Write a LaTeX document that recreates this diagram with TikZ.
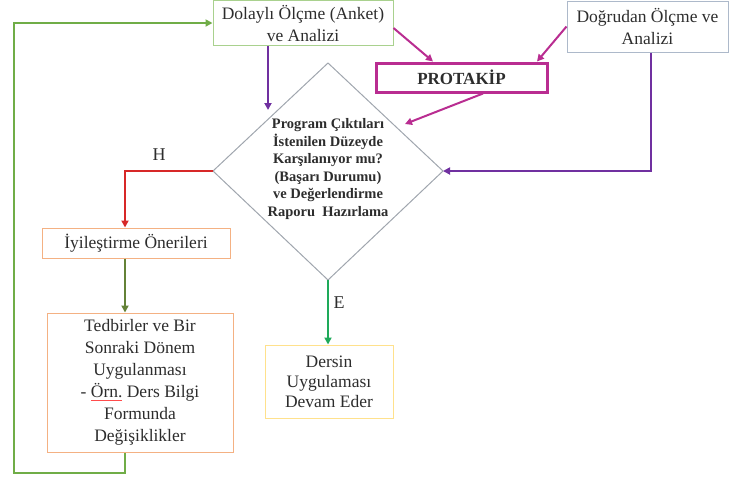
\documentclass[tikz,border=0pt]{standalone}
\usepackage{fontspec}
\setmainfont{Liberation Serif}[Ligatures=TeX]
\newfontfamily\tnr{Liberation Serif}
\usetikzlibrary{arrows.meta,calc}
\definecolor{cgreen}{RGB}{169,209,142}
\definecolor{cblue}{RGB}{173,185,202}
\definecolor{cmag}{RGB}{185,45,145}
\definecolor{cpur}{RGB}{112,48,160}
\definecolor{cgray}{RGB}{160,166,174}
\definecolor{cred}{RGB}{215,40,40}
\definecolor{corange}{RGB}{244,177,131}
\definecolor{colive}{RGB}{100,130,55}
\definecolor{cfb}{RGB}{112,173,71}
\definecolor{cE}{RGB}{30,170,90}
\definecolor{cyel}{RGB}{255,225,140}
\definecolor{ctext}{RGB}{45,45,45}
\newcommand\redul[1]{\setbox0\hbox{#1}\rlap{\color{red!70}\rule[-3pt]{\wd0}{0.6pt}}\box0\relax}
\tikzset{
  box/.style={draw, line width=1pt, rectangle, align=center, inner sep=0pt,
    text=ctext, font=\tnr\fontsize{17.5}{22}\selectfont},
  conn/.style={line width=2pt, -{Triangle[width=7pt,length=7pt]}},
  diamtext/.style={align=center, inner sep=0pt, text=ctext,
    font=\tnr\fontsize{14.5}{17.6}\selectfont\bfseries},
  lbl/.style={inner sep=0pt, text=ctext, font=\tnr\fontsize{18}{22}\selectfont}
}
\begin{document}
\begin{tikzpicture}[x=1pt,y=-1pt]
\useasboundingbox (0,0) rectangle (729,483);
% boxes
\node[box, draw=cgreen, minimum width=180pt, minimum height=45pt] (dol) at (303,23) {Dolaylı Ölçme (Anket)\\ve Analizi};
\node[box, draw=cblue, minimum width=161pt, minimum height=51pt] (dog) at (647.5,26.5) {Doğrudan Ölçme ve\\Analizi};
\node[box, draw=cmag, line width=3pt, minimum width=171pt, minimum height=29pt, font=\tnr\fontsize{17}{20}\selectfont\bfseries] (pro) at (461.5,77.5) {PROTAKİP};
\node[box, draw=corange, minimum width=188pt, minimum height=30pt] (iyi) at (136,243) {İyileştirme Önerileri};
\node[box, draw=corange, minimum width=186pt, minimum height=139pt] (ted) at (140,382.5) {Tedbirler ve Bir\\Sonraki Dönem\\Uygulanması\\- \redul{Örn.} Ders Bilgi\\Formunda\\Değişiklikler};
\node[box, draw=cyel, minimum width=128pt, minimum height=73pt, font=\tnr\fontsize{17.5}{20}\selectfont] (der) at (329,381.5) {Dersin\\Uygulaması\\Devam Eder};
% diamond
\coordinate (dtop) at (328,63);
\coordinate (dr) at (443,171);
\coordinate (db) at (328,280);
\coordinate (dl) at (213,171);
\draw[cgray, line width=1pt] (dtop) -- (dr) -- (db) -- (dl) -- cycle;
\node[diamtext] (dtext) at (328,169) {Program Çıktıları\\İstenilen Düzeyde\\Karşılanıyor mu?\\(Başarı Durumu)\\ve Değerlendirme\\Raporu\ \ Hazırlama};
% helper coordinates
\coordinate (cx) at (125,0);
\coordinate (p1) at (268,110);
\coordinate (p2) at (405,124);
\coordinate (fb) at (14,473);
\coordinate (rx) at (651,0);
% connectors
\draw[conn, cpur] (dol.south -| p1) -- (p1);
\draw[conn, cmag] ([yshift=-5pt]dol.east) -- (pro.north -| 433,0);
\draw[conn, cmag] (dog.west) -- (pro.north -| 537,0);
\draw[conn, cmag] (pro.south -| 483,0) -- (p2);
\draw[conn, cpur] (dog.south -| rx) |- (dr);
\draw[conn, cred] (dl) -| (iyi.north -| cx);
\draw[conn, colive] (iyi.south -| cx) -- (ted.north -| cx);
\draw[conn, cfb] (ted.south -| cx) |- (fb) |- (dol.west);
\draw[conn, cE] (db) -- (der.north -| db);
% labels
\node[lbl] (H) at (159,155) {H};
\node[lbl] (E) at (339,303) {E};
\end{tikzpicture}
\end{document}
